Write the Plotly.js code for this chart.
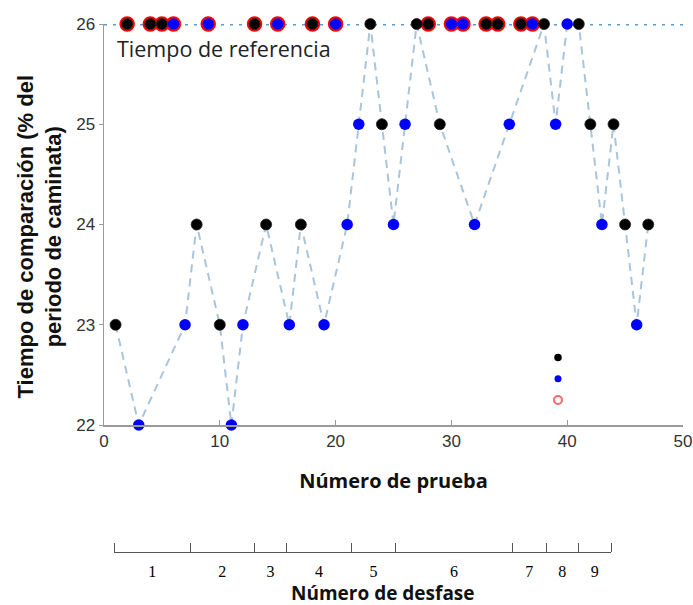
<!DOCTYPE html>
<html>
<head>
<meta charset="utf-8">
<script src="https://cdn.plot.ly/plotly-3.0.1.min.js"></script>
<style>html,body{margin:0;padding:0;background:#fff;}#chart{width:693px;height:605px;}</style>
</head>
<body>
<div id="chart"></div>
<script>
// ---- data ----
const trial = [1,2,3,4,5,6,7,8,9,10,11,12,13,14,15,16,17,18,19,20,21,22,23,24,25,26,27,28,29,30,31,32,33,34,35,36,37,38,39,40,41,42,43,44,45,46,47];
const compTime = [23,26,22,26,26,26,23,24,26,23,22,23,26,24,26,23,24,26,23,26,24,25,26,25,24,25,26,26,25,26,26,24,26,26,25,26,26,26,25,26,26,25,24,25,24,23,24];
const group = ['A','A','B','A','A','B','B','A','B','A','B','B','A','A','B','B','A','A','B','B','B','B','A','A','B','B','A','A','A','B','B','B','A','A','B','A','B','A','B','B','A','A','B','A','A','B','A'];
const atReference = [0,1,0,1,1,1,0,0,1,0,0,0,1,0,1,0,0,1,0,1,0,0,0,0,0,0,0,1,0,1,1,0,1,1,0,1,1,0,0,0,0,0,0,0,0,0,0];
const referenceTime = 26;
const referenceSpan = [0, 50];
const xTicks = [0,10,20,30,40,50];
const yTicks = [22,23,24,25,26];
const phaseBounds = [0.9, 7.5, 13.0, 15.8, 21.4, 25.2, 35.3, 38.2, 41.0, 43.8];
const phaseLabels = ['1','2','3','4','5','6','7','8','9'];

// ---- derived ----
const pick = (arr, f) => arr.filter((_, i) => f(i));
const lineIdx = i => atReference[i] === 0;
const phaseMid = phaseLabels.map((_, i) => (phaseBounds[i] + phaseBounds[i+1]) / 2);

const traces = [
  {x: referenceSpan, y: referenceSpan.map(() => referenceTime), mode: 'lines',
   line: {color: '#5b9bd5', width: 3, dash: '3px,6px'}, showlegend: false, hoverinfo: 'skip', cliponaxis: false},
  {x: pick(trial, lineIdx), y: pick(compTime, lineIdx), mode: 'lines',
   line: {color: '#a9c5db', width: 2, dash: '8px,6px'}, showlegend: false, cliponaxis: false},
  {x: pick(trial, i => atReference[i] === 1), y: pick(compTime, i => atReference[i] === 1), mode: 'markers',
   marker: {symbol: 'circle-open', size: 13, color: '#ff0000', line: {width: 2.5, color: '#ff0000'}}, showlegend: false, cliponaxis: false},
  {x: pick(trial, i => group[i] === 'A'), y: pick(compTime, i => group[i] === 'A'), mode: 'markers',
   marker: {size: 11, color: '#000000', line: {width: 0.8, color: '#222'}}, showlegend: false, cliponaxis: false},
  {x: pick(trial, i => group[i] === 'B'), y: pick(compTime, i => group[i] === 'B'), mode: 'markers',
   marker: {size: 11.5, color: '#0000ff'}, showlegend: false, cliponaxis: false},
  // legend-only entries
  {x: [null], y: [null], mode: 'markers', name: ' ', marker: {size: 7.5, color: '#000000'}, showlegend: true},
  {x: [null], y: [null], mode: 'markers', name: ' ', marker: {size: 7, color: '#0000ff'}, showlegend: true},
  {x: [null], y: [null], mode: 'markers', name: ' ', marker: {symbol: 'circle-open', size: 8, color: '#f06a6a', line: {width: 2, color: '#f06a6a'}}, showlegend: true},
  // phase axis carrier
  {x: phaseMid, y: phaseMid.map(() => null), xaxis: 'x2', yaxis: 'y', mode: 'markers', showlegend: false, hoverinfo: 'skip'}
];

const W = 693, H = 605, mL = 104, mR = 10, mT = 24, mB = 53;
const pw = W - mL - mR, ph = H - mT - mB;
const px2x = p => (p - mL) / pw;
const py2y = p => (H - mB - p) / ph;

const layout = {
  width: W, height: H,
  margin: {l: mL, r: mR, t: mT, b: mB},
  paper_bgcolor: '#ffffff', plot_bgcolor: 'rgba(0,0,0,0)',
  showlegend: true,
  legend: {x: px2x(538), y: py2y(342), xanchor: 'left', yanchor: 'top', bgcolor: 'rgba(0,0,0,0)',
           font: {size: 14, family: 'Liberation Sans'}, tracegroupgap: 0},
  xaxis: {range: [0, 50], domain: [0, 1], anchor: 'y', showgrid: false, zeroline: false,
          showline: true, linecolor: '#9a9a9a', linewidth: 1.5,
          tickmode: 'array', tickvals: xTicks, ticks: 'inside', ticklen: 5, tickcolor: '#9a9a9a',
          tickfont: {family: 'Liberation Sans', size: 17, color: '#333'},
          title: {text: 'Número de prueba', font: {family: 'Open Sans', size: 20, color: '#111', weight: 'bold'}, standoff: 24},
          automargin: false},
  yaxis: {range: [22, 26], domain: [py2y(425), 1], showgrid: false, zeroline: false,
          showline: true, linecolor: '#9a9a9a', linewidth: 1.5,
          tickmode: 'array', tickvals: yTicks, ticks: 'outside', ticklen: 4, tickcolor: '#9a9a9a',
          tickfont: {family: 'Liberation Sans', size: 17, color: '#333'}, automargin: false},
  xaxis2: {domain: [px2x(114), px2x(611)], range: [phaseBounds[0], phaseBounds[phaseBounds.length-1]],
           anchor: 'free', position: 0, showgrid: false, zeroline: false,
           showline: true, linecolor: '#555', linewidth: 1,
           tickmode: 'array', tickvals: phaseMid, ticktext: phaseLabels, ticks: '',
           ticklabelstandoff: 5,
           tickfont: {family: 'Liberation Serif', size: 16, color: '#000'},
           minor: {tickmode: 'array', tickvals: phaseBounds, ticks: 'inside', ticklen: 9, tickcolor: '#555', tickwidth: 1, showgrid: false},
           automargin: false},
  annotations: [
    {text: 'Tiempo de referencia', xref: 'x', yref: 'y', x: (115 - mL) / pw * 50, y: 26 - (48 - 24) / (425 - 24) * 4,
     xanchor: 'left', yanchor: 'middle', showarrow: false,
     font: {family: 'Open Sans', size: 21.5, color: '#222'}},
    {text: 'Tiempo de comparación (% del<br>periodo de caminata)', xref: 'paper', yref: 'paper',
     x: px2x(39.5), y: py2y(237), xanchor: 'center', yanchor: 'middle', textangle: -90, showarrow: false,
     font: {family: 'Liberation Sans', size: 22, color: '#111', weight: 'bold'}},
    {text: 'Número de desfase', xref: 'paper', yref: 'paper', x: px2x(383), y: py2y(593),
     xanchor: 'center', yanchor: 'middle', showarrow: false,
     font: {family: 'Open Sans', size: 19, color: '#111', weight: 'bold'}}
  ]
};

Plotly.newPlot('chart', traces, layout, {displayModeBar: false, staticPlot: true});
</script>
</body>
</html>
